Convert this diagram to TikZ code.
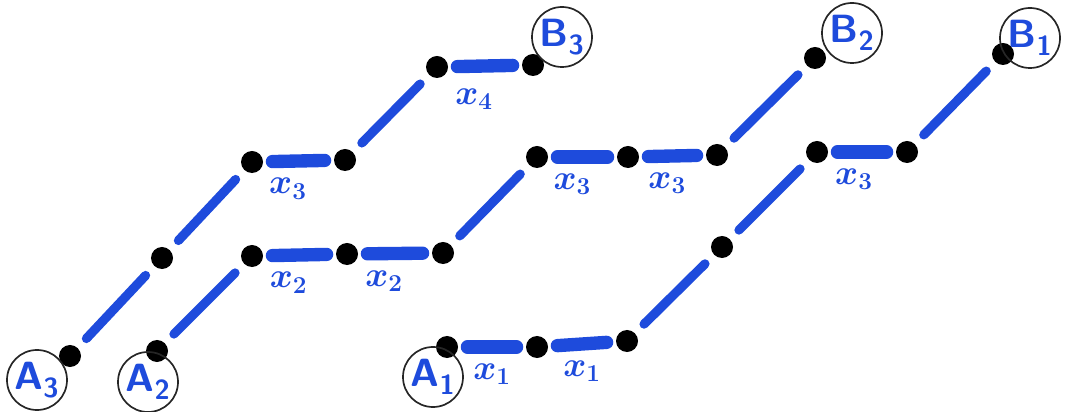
\documentclass[tikz,border=0pt]{standalone}
\usepackage{amsmath,amssymb}
\usepackage{xcolor}
\usepackage{tikz}
\usetikzlibrary{positioning}
\definecolor{ink}{RGB}{30,75,220}

\begin{document}
\begin{tikzpicture}[
  x=0.025cm,y=-0.025cm,
  dot/.style={circle,fill=black,inner sep=0pt,minimum size=0.55cm},
  hseg/.style={draw=ink,line width=9.5pt,line cap=round,shorten >=6.5pt,shorten <=6.5pt},
  dseg/.style={draw=ink,line width=6.5pt,line cap=round,shorten >=9pt,shorten <=9pt},
  ring/.style={circle,draw=black!85,line width=1.2pt,minimum size=1.5cm,inner sep=0pt,
               text=ink,font=\sffamily\bfseries\fontsize{28}{32}\selectfont},
  xl/.style={below=4pt,pos=0.35,text=ink,font=\boldmath\fontsize{24}{28}\selectfont}
]
\useasboundingbox (0,0) rectangle (1065,412);

\node[dot] (a3) at (70,356) {};
\node[dot] (p31) at (162,258) {};
\node[dot] (p32) at (252,162) {};
\node[dot] (p33) at (345,160) {};
\node[dot] (p34) at (437,67) {};
\node[dot] (b3) at (533,65) {};

\node[dot] (a2) at (157,351) {};
\node[dot] (p21) at (252,256) {};
\node[dot] (p22) at (347,254) {};
\node[dot] (p23) at (443,253) {};
\node[dot] (p24) at (537,157) {};
\node[dot] (p25) at (628,157) {};
\node[dot] (p26) at (717,155) {};
\node[dot] (b2) at (815,58) {};

\node[dot] (a1) at (447,347) {};
\node[dot] (p11) at (537,347) {};
\node[dot] (p12) at (627,341) {};
\node[dot] (p13) at (722,247) {};
\node[dot] (p14) at (817,152) {};
\node[dot] (p15) at (907,152) {};
\node[dot] (b1) at (1003,54) {};

\node[ring] (la3) at (37,380) {A\textsubscript{3}};
\node[ring] (la2) at (148,382) {A\textsubscript{2}};
\node[ring] (la1) at (433,377) {A\textsubscript{1}};
\node[ring] (lb3) at (562,37) {B\textsubscript{3}};
\node[ring] (lb2) at (852,33) {B\textsubscript{2}};
\node[ring] (lb1) at (1030,38) {B\textsubscript{1}};

\draw[dseg] (a3) -- (p31);
\draw[dseg] (p31) -- (p32);
\draw[hseg] (p32) -- node[xl] {$x_3$} (p33);
\draw[dseg] (p33) -- (p34);
\draw[hseg] (p34) -- node[xl,below=8pt] {$x_4$} (b3);

\draw[dseg] (a2) -- (p21);
\draw[hseg] (p21) -- node[xl] {$x_2$} (p22);
\draw[hseg] (p22) -- node[xl] {$x_2$} (p23);
\draw[dseg] (p23) -- (p24);
\draw[hseg] (p24) -- node[xl] {$x_3$} (p25);
\draw[hseg] (p25) -- node[xl,pos=0.42] {$x_3$} (p26);
\draw[dseg] (p26) -- (b2);

\draw[hseg] (a1) -- node[xl,pos=0.5] {$x_1$} (p11);
\draw[hseg] (p11) -- node[xl,pos=0.5] {$x_1$} (p12);
\draw[dseg] (p12) -- (p13);
\draw[dseg] (p13) -- (p14);
\draw[hseg] (p14) -- node[xl,pos=0.38] {$x_3$} (p15);
\draw[dseg] (p15) -- (b1);
\end{tikzpicture}
\end{document}
